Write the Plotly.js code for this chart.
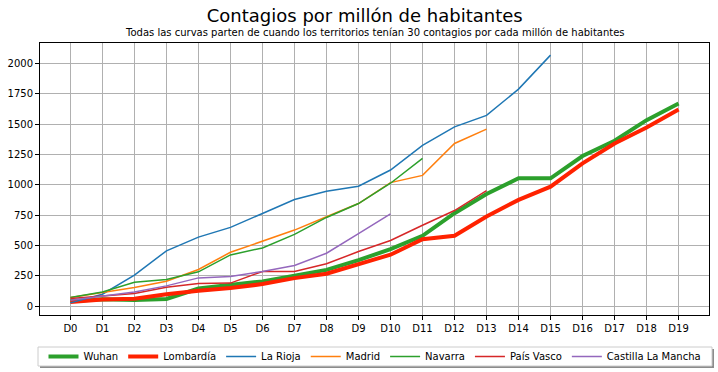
<!DOCTYPE html>
<html>
<head>
<meta charset="utf-8">
<script src="https://cdn.plot.ly/plotly-3.0.1.min.js"></script>
<style>html,body{margin:0;padding:0;background:#fff;}#chart{width:718px;height:372px;}</style>
</head>
<body>
<div id="chart"></div>
<script>
const days = ["D0","D1","D2","D3","D4","D5","D6","D7","D8","D9","D10","D11","D12","D13","D14","D15","D16","D17","D18","D19"];
const wuhan = [44, 58, 52, 60, 146, 172, 205, 251, 300, 380, 471, 581, 767, 926, 1055, 1055, 1238, 1364, 1534, 1671];
const lombardia = [36, 55, 62, 99, 127, 150, 183, 232, 268, 350, 425, 553, 581, 740, 877, 986, 1178, 1342, 1474, 1622];
const laRioja = [28, 99, 256, 457, 570, 650, 765, 880, 948, 990, 1123, 1326, 1479, 1573, 1790, 2070];
const madrid = [72, 110, 154, 206, 303, 445, 535, 628, 738, 847, 1019, 1079, 1342, 1460];
const navarra = [72, 118, 198, 220, 284, 423, 481, 593, 732, 847, 1014, 1219];
const paisVasco = [63, 85, 105, 157, 187, 191, 287, 287, 350, 451, 542, 668, 789, 953];
const castilla = [50, 85, 118, 168, 234, 246, 287, 336, 437, 598, 762];
const yTicks = [0, 250, 500, 750, 1000, 1250, 1500, 1750, 2000];

const series = [
  {name: "Wuhan", y: wuhan, color: "#2ca02c", width: 4},
  {name: "Lombardía", y: lombardia, color: "#ff2200", width: 4},
  {name: "La Rioja", y: laRioja, color: "#1f77b4", width: 1.5},
  {name: "Madrid", y: madrid, color: "#ff7f0e", width: 1.5},
  {name: "Navarra", y: navarra, color: "#2ca02c", width: 1.5},
  {name: "País Vasco", y: paisVasco, color: "#d62728", width: 1.5},
  {name: "Castilla La Mancha", y: castilla, color: "#9467bd", width: 1.5}
];

const traces = series.map(s => ({
  type: "scatter", mode: "lines", name: s.name,
  x: days.slice(0, s.y.length), y: s.y,
  line: {color: s.color, width: s.width}
}));

// plot area in pixels: left 40, right 709, top 43, bottom 315
const PW = 669, PH = 272, PL = 40, PB = 315;
const px = v => (v - PL) / PW;
const py = v => (PB - v) / PH;

const font = {family: "DejaVu Sans", size: 10, color: "#000"};
const layout = {
  width: 718, height: 372,
  margin: {l: 40, r: 9, t: 43, b: 57, autoexpand: false},
  paper_bgcolor: "#fff", plot_bgcolor: "#fff",
  font: font,
  title: {text: "Contagios por millón de habitantes", x: 0.508, xref: "container", xanchor: "center",
          y: 1 - 16/372, yref: "container", yanchor: "middle",
          font: {family: "DejaVu Sans", size: 18, color: "#000"}},
  annotations: [{text: "Todas las curvas parten de cuando los territorios tenían 30 contagios por cada millón de habitantes",
    xref: "paper", yref: "paper", x: 0.5, y: 1 + 10/272, xanchor: "center", yanchor: "middle",
    showarrow: false, font: {family: "DejaVu Sans", size: 10, color: "#000"}}],
  shapes: [
    {type: "rect", xref: "paper", yref: "paper", layer: "above",
     x0: px(40), x1: px(714), y0: py(349), y1: py(368),
     fillcolor: "rgba(0,0,0,0.45)", line: {width: 0}},
    {type: "rect", xref: "paper", yref: "paper", layer: "above",
     x0: px(38), x1: px(712), y0: py(347), y1: py(366),
     fillcolor: "#ffffff", line: {color: "#cccccc", width: 1}}
  ],
  xaxis: {type: "category", range: [-0.95, 19.95], categoryorder: "array", categoryarray: days,
    showgrid: true, gridcolor: "#b0b0b0", gridwidth: 1,
    showline: true, mirror: true, linecolor: "#000", linewidth: 1,
    ticks: "outside", ticklen: 4, tickcolor: "#000", tickfont: font, zeroline: false},
  yaxis: {range: [-72, 2170], tickvals: yTicks, ticktext: yTicks.map(String),
    showgrid: true, gridcolor: "#b0b0b0", gridwidth: 1,
    showline: true, mirror: true, linecolor: "#000", linewidth: 1,
    ticks: "outside", ticklen: 4, tickcolor: "#000", tickfont: font, zeroline: false},
  legend: {orientation: "h", x: px(375), xanchor: "center", y: py(356.5), yanchor: "middle",
    borderwidth: 0, bgcolor: "rgba(0,0,0,0)", font: font, itemwidth: 30},
  showlegend: true
};

Plotly.newPlot("chart", traces, layout, {displayModeBar: false, staticPlot: true});
</script>
</body>
</html>
